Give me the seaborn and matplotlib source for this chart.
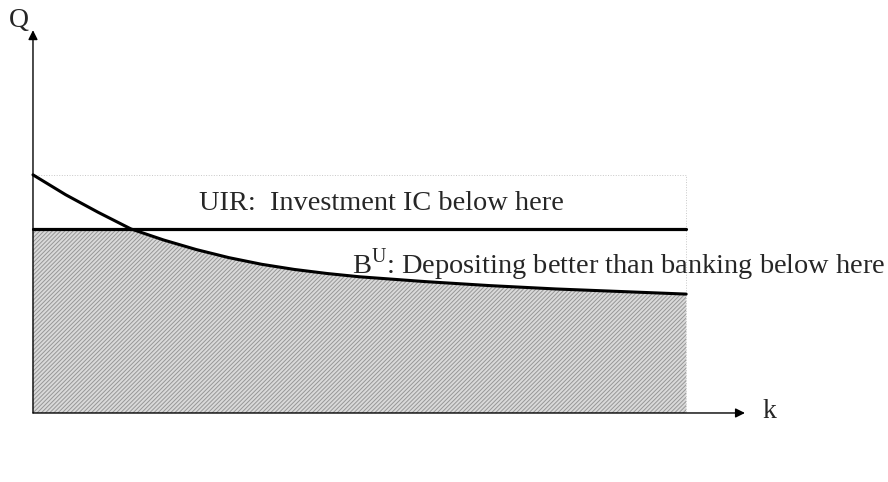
import numpy as np
import pandas as pd
import seaborn as sns
import matplotlib.pyplot as plt

# Values (abstract units)
k_vals = [0, 0.5, 1.0, 1.5, 2.0, 2.5, 3.0, 3.5, 4.0, 4.5, 5.0, 6.0, 7.0, 8.0, 9.0, 10.0]
bu_vals = [6.47, 5.93, 5.45, 5.00, 4.70, 4.44, 4.22, 4.04, 3.90, 3.79, 3.70,
           3.57, 3.46, 3.37, 3.30, 3.23]
uir_level = 5.0
k_max = 10
top_box = 6.47

sns.set_theme(style="white")
plt.rcParams['font.family'] = ['Liberation Serif', 'DejaVu Serif']
plt.rcParams['mathtext.fontset'] = 'custom'
plt.rcParams['mathtext.rm'] = 'Liberation Serif'
plt.rcParams['hatch.linewidth'] = 0.7

df = pd.DataFrame({"k": k_vals, "BU": bu_vals})

fig = plt.figure(figsize=(8.88, 4.82), dpi=100)
ax = fig.add_axes([0, 0, 1, 1])
ax.set_xlim(-0.505, 13.09)
ax.set_ylim(-1.875, 11.22)
ax.axis("off")

# shaded area below both constraints
kk = np.array(k_vals)
lower = np.minimum(np.array(bu_vals), uir_level)
ax.fill_between(kk, 0, lower, facecolor="#dadada", hatch="////////",
                edgecolor="#969696", linewidth=0)

# faint dotted frame
ax.plot([0, k_max, k_max], [top_box, top_box, 0], color="#c8c8c8",
        lw=0.7, ls=":")

# UIR line
ax.plot([0, k_max], [uir_level, uir_level], color="black", lw=2.3)

# B^U curve
sns.lineplot(data=df, x="k", y="BU", ax=ax, color="black", lw=2.2)

# axes with arrows
ax.annotate("", xy=(10.9, 0), xytext=(0, 0),
            arrowprops=dict(arrowstyle="-|>", color="black", lw=1.0,
                            mutation_scale=14, shrinkA=0, shrinkB=0))
ax.annotate("", xy=(0, 10.4), xytext=(0, 0),
            arrowprops=dict(arrowstyle="-|>", color="black", lw=1.0,
                            mutation_scale=14, shrinkA=0, shrinkB=0))

ax.text(-0.22, 10.65, "Q", fontsize=20, ha="center", va="center")
ax.text(11.28, 0.05, "k", fontsize=20, ha="center", va="center")

ax.text(2.54, 5.52, "UIR:  Investment IC below here", fontsize=20.4,
        ha="left", va="baseline")
ax.text(4.88, 3.78, r"B$^{\mathrm{U}}$: Depositing better than banking below here",
        fontsize=20.4, ha="left", va="baseline")

fig.savefig("out.png", dpi=100)
